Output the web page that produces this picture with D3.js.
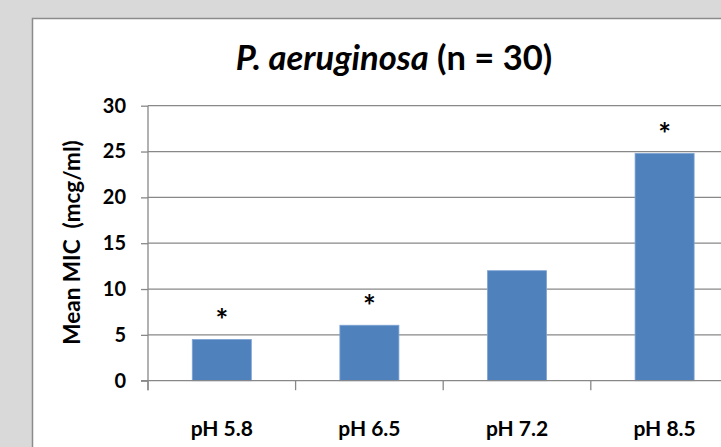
<!DOCTYPE html>
<html><head><meta charset="utf-8">
<script src="https://cdn.jsdelivr.net/npm/d3@7"></script>
<style>
html,body{margin:0;padding:0;background:#d9d9d9;}
svg{display:block;}
text{font-family:"Lato","Open Sans",sans-serif;font-weight:bold;fill:#000;}
</style></head>
<body>
<svg id="chart" width="721" height="447"></svg>
<script>
const categories = ["pH 5.8", "pH 6.5", "pH 7.2", "pH 8.5"];
const values = [4.5, 6.05, 12.0, 24.8];
const significant = [true, true, false, true];
const yTicks = [0, 5, 10, 15, 20, 25, 30];

(function () {
const svg = d3.select("#chart");
const W = 721, H = 447;

svg.append("rect").attr("x", 32.5).attr("y", 18.5).attr("width", 760).attr("height", 500)
  .attr("fill", "#fff").attr("stroke", "#8c8c8c").attr("stroke-width", 1.5);

const pLeft = 148, pBottom = 380.7, pTop = 105.7, step = 147.6;
const x = d3.scaleBand().domain(categories).range([pLeft, pLeft + step * categories.length])
  .paddingInner(0.6).paddingOuter(0.3);
const y = d3.scaleLinear().domain([0, 30]).range([pBottom, pTop]);

svg.append("g").selectAll("line").data(yTicks.filter(d => d > 0)).join("line")
  .attr("x1", pLeft).attr("x2", W + 20)
  .attr("y1", d => y(d)).attr("y2", d => y(d))
  .attr("stroke", "#888").attr("stroke-width", 1.3);

svg.append("g").selectAll("rect").data(values).join("rect")
  .attr("x", (d, i) => x(categories[i]))
  .attr("width", x.bandwidth())
  .attr("y", d => y(d))
  .attr("height", d => pBottom - y(d))
  .attr("fill", "#4f81bd")
  .attr("stroke", "#7fa3d4").attr("stroke-width", 0.8);

svg.append("g").selectAll("text").data(values.map((v, i) => ({v, i})).filter(d => significant[d.i])).join("text")
  .attr("x", d => x(categories[d.i]) + x.bandwidth() / 2)
  .attr("y", d => y(d.v) - 8)
  .attr("text-anchor", "middle")
  .attr("font-size", 30)
  .attr("font-weight", 900)
  .text("*");

const yAxis = d3.axisLeft(y).tickValues(yTicks).tickSize(7).tickPadding(15);
const gy = svg.append("g").attr("transform", `translate(${pLeft},0)`).call(yAxis);
gy.select(".domain").remove();
gy.selectAll(".tick line").attr("stroke", "#888").attr("stroke-width", 1.3);
gy.selectAll(".tick text").attr("font-size", 20).attr("font-family", "Lato").attr("font-weight", "bold").attr("fill", "#000");
svg.append("line").attr("x1", pLeft).attr("x2", pLeft).attr("y1", pTop).attr("y2", pBottom + 9.5)
  .attr("stroke", "#888").attr("stroke-width", 1.3);

svg.append("line").attr("x1", pLeft - 7).attr("x2", W + 20).attr("y1", pBottom).attr("y2", pBottom)
  .attr("stroke", "#888").attr("stroke-width", 1.3);
const bounds = d3.range(categories.length + 1).map(i => x.range()[0] + i * x.step());
svg.append("g").selectAll("line").data(bounds).join("line")
  .attr("x1", d => d).attr("x2", d => d).attr("y1", pBottom).attr("y2", pBottom + 9.5)
  .attr("stroke", "#888").attr("stroke-width", 1.3);
const xAxis = d3.axisBottom(x).tickSize(0).tickPadding(40);
const gx = svg.append("g").attr("transform", `translate(0,${pBottom})`).call(xAxis);
gx.select(".domain").remove();
gx.selectAll(".tick text").attr("font-size", 21).attr("font-family", "Lato").attr("font-weight", "bold").attr("fill", "#000");

svg.append("text").attr("transform", `translate(80,242.5) rotate(-90)`)
  .attr("text-anchor", "middle").attr("font-size", 22.5).style("white-space", "pre")
  .text("Mean MIC  (mcg/ml)");

const t = svg.append("text").attr("x", 394).attr("y", 70).attr("text-anchor", "middle").attr("font-size", 34.5);
t.append("tspan").attr("font-style", "italic").text("P. aeruginosa");
t.append("tspan").text(" (n = 30)");
})();
</script>
</body></html>
